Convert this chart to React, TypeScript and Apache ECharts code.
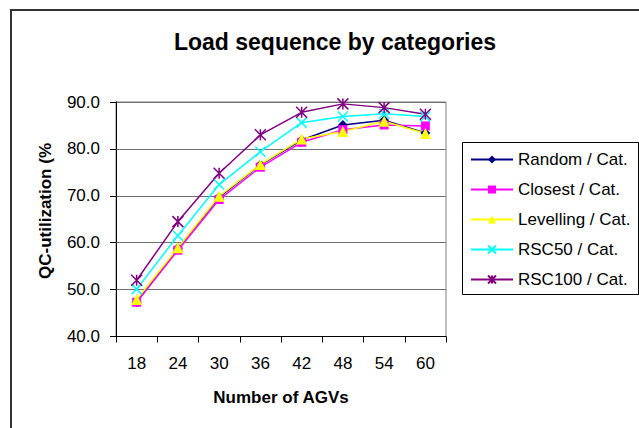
import React, { useEffect, useRef } from "react";
import * as echarts from "echarts";

// Number of AGVs on the x axis
const agvCounts = ["18", "24", "30", "36", "42", "48", "54", "60"];

// QC-utilization (%) per load-sequence strategy
const randomCat = [47.3, 58.8, 69.7, 76.6, 81.9, 85.1, 86.1, 83.4];
const closestCat = [47.3, 58.4, 69.2, 76.1, 81.4, 84.1, 85.1, 84.9];
const levellingCat = [47.9, 58.9, 69.9, 76.7, 82.1, 83.7, 85.9, 83.3];
const rsc50Cat = [50.1, 61.5, 72.4, 79.4, 85.6, 86.9, 87.5, 86.9];
const rsc100Cat = [52.0, 64.5, 74.8, 83.0, 87.8, 89.6, 88.8, 87.4];

const seriesNames = [
  "Random / Cat.",
  "Closest / Cat.",
  "Levelling / Cat.",
  "RSC50 / Cat.",
  "RSC100 / Cat.",
];

const yTicks = [40, 50, 60, 70, 80, 90];

const FONT = "'Liberation Sans', Arial, sans-serif";

const CROSS = "path://M0,0L10,10M10,0L0,10";
const STAR = "path://M0,0L10,10M10,0L0,10M5,0L5,10";

export default function App() {
  const ref = useRef<HTMLDivElement>(null);

  useEffect(() => {
    if (!ref.current) return;
    const chart = echarts.init(ref.current, undefined, { renderer: "svg" });

    const mk = (
      name: string,
      data: number[],
      color: string,
      symbol: string,
      size: number,
      hollow: boolean
    ) => ({
      name,
      type: "line",
      data,
      symbol,
      symbolSize: size,
      showAllSymbol: true,
      lineStyle: { color, width: 1.5 },
      itemStyle: hollow
        ? { color: "none", borderColor: color, borderWidth: 1.5 }
        : { color, borderColor: color, borderWidth: 0 },
      emphasis: { disabled: true },
    });

    chart.setOption({
      animation: false,
      backgroundColor: "#ffffff",
      textStyle: { fontFamily: FONT },
      title: {
        text: "Load sequence by categories",
        left: 330,
        top: 25,
        textAlign: "center",
        textStyle: {
          fontFamily: FONT,
          fontSize: 23,
          fontWeight: "bold",
          color: "#000",
        },
      },
      grid: {
        left: 116,
        top: 102,
        right: 193,
        bottom: 91.5,
        show: true,
        borderColor: "#808080",
        borderWidth: 1,
        backgroundColor: "transparent",
      },
      legend: {
        orient: "vertical",
        left: 463,
        top: 143,
        padding: [6.5, 6, 5, 7],
        itemWidth: 42,
        itemHeight: 10,
        itemGap: 10,
        data: seriesNames,
        textStyle: {
          fontFamily: FONT,
          fontSize: 17,
          lineHeight: 20,
          color: "#000",
        },
      },
      xAxis: {
        type: "category",
        data: agvCounts,
        boundaryGap: true,
        name: "Number of AGVs",
        nameLocation: "middle",
        nameGap: 52,
        nameTextStyle: {
          fontFamily: FONT,
          fontSize: 17,
          fontWeight: "bold",
          color: "#000",
        },
        axisLine: { lineStyle: { color: "#000", width: 1 } },
        axisTick: { show: true, length: 6, lineStyle: { color: "#000" } },
        axisLabel: {
          margin: 18,
          fontFamily: FONT,
          fontSize: 17,
          color: "#000",
        },
        splitLine: { show: false },
      },
      yAxis: {
        type: "value",
        min: yTicks[0],
        max: yTicks[yTicks.length - 1],
        interval: 10,
        axisLine: { show: true, lineStyle: { color: "#000", width: 1 } },
        axisTick: { show: true, length: 6, lineStyle: { color: "#000" } },
        axisLabel: {
          margin: 16,
          fontFamily: FONT,
          fontSize: 17,
          color: "#000",
          formatter: (v: number) => v.toFixed(1),
        },
        splitLine: { show: true, lineStyle: { color: "#6e6e6e", width: 1 } },
      },
      graphic: [
        {
          type: "rect",
          silent: true,
          shape: { x: 11, y: 10, width: 700, height: 500 },
          style: { fill: "none", stroke: "#333", lineWidth: 2 },
          z: -10,
        },
        {
          type: "rect",
          silent: true,
          shape: { x: 462.5, y: 142.5, width: 176, height: 152 },
          style: { fill: "none", stroke: "#000", lineWidth: 1 },
        },
        {
          type: "text",
          silent: true,
          x: 45,
          y: 211,
          rotation: Math.PI / 2,
          style: {
            text: "QC-utilization (%",
            fontFamily: FONT,
            fontSize: 17,
            fontWeight: "bold",
            fill: "#000",
            align: "center",
            verticalAlign: "middle",
          },
        },
      ],
      series: [
        mk(seriesNames[0], randomCat, "#000080", "diamond", 10, false),
        mk(seriesNames[1], closestCat, "#FF00FF", "rect", 9, false),
        mk(seriesNames[2], levellingCat, "#FFFF00", "triangle", 11, false),
        mk(seriesNames[3], rsc50Cat, "#00FFFF", CROSS, 10, true),
        mk(seriesNames[4], rsc100Cat, "#800080", STAR, 11, true),
      ],
    });

    return () => chart.dispose();
  }, []);

  return (
    <div
      ref={ref}
      style={{ position: "absolute", left: 0, top: 0, width: 639, height: 428 }}
    />
  );
}
